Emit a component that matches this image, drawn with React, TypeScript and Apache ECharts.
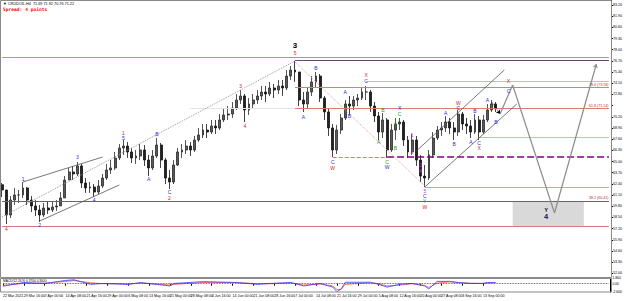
import React, { useEffect, useRef } from "react";
import * as echarts from "echarts";

const dateLabels = [
  "22 Mar 2021", "29 Mar 16:00", "7 Apr 00:00", "14 Apr 08:00", "21 Apr 16:00", "29 Apr 00:00",
  "6 May 08:00", "13 May 16:00", "21 May 00:00", "28 May 08:00", "4 Jun 16:00", "14 Jun 00:00",
  "21 Jun 08:00", "28 Jun 16:00", "7 Jul 00:00", "14 Jul 08:00", "21 Jul 16:00", "29 Jul 00:00",
  "5 Aug 08:00", "12 Aug 16:00", "20 Aug 00:00", "27 Aug 08:00", "3 Sep 16:00", "13 Sep 00:00",
];
const barsPerLabel = 5;
const categoryCount = 146;

const firstOpen = 62.3;
const closes = [
  61.69, 58.78, 60.52, 61.11, 61.11, 61.92, 60.52, 59.83, 59.36, 58.78,
  59.59, 59.36, 59.71, 59.83, 60.76, 62.85, 63.78, 63.55, 64.48, 62.5,
  61.92, 62.04, 61.45, 62.15, 63.08, 64.01, 64.25, 65.41, 66.57, 66.8,
  66.11, 65.41, 65.64, 66.34, 65.17, 64.25, 65.64, 66.92, 65.17, 63.08,
  62.62, 64.59, 66.11, 66.34, 66.8, 66.34, 67.5, 68.08, 68.66, 68.43,
  69.13, 68.9, 69.83, 70.41, 70.52, 71.22, 72.15, 72.62, 70.99, 71.69,
  72.15, 72.62, 73.08, 72.85, 73.55, 73.31, 73.78, 73.55, 74.94, 75.64,
  75.41, 72.15, 71.69, 73.08, 74.25, 74.94, 72.38, 70.76, 68.9, 66.34,
  68.66, 70.06, 71.69, 71.45, 72.15, 72.38, 73.08, 73.08, 71.45, 70.29,
  68.43, 69.83, 66.34, 68.66, 69.36, 69.59, 67.5, 66.11, 67.5, 65.17,
  63.31, 63.08, 65.76, 67.73, 68.66, 68.9, 69.59, 68.9, 68.43, 70.52,
  69.36, 69.13, 68.43, 69.83, 68.43, 69.83, 70.99, 71.69, 71.22,
];
const highs = [
  62.5, 61.69, 60.99, 61.92, 61.69, 62.62, 62.04, 60.99, 60.52, 59.94,
  60.17, 60.29, 60.29, 60.52, 61.45, 63.31, 64.25, 64.48, 64.94, 64.71,
  63.08, 62.62, 62.38, 62.85, 63.55, 64.71, 65.17, 66.11, 67.04, 67.5,
  67.27, 66.57, 66.34, 67.04, 66.92, 65.76, 66.34, 67.73, 67.15, 65.41,
  64.01, 65.17, 66.57, 67.04, 67.5, 67.27, 67.97, 68.9, 69.36, 69.36,
  69.83, 69.83, 70.52, 71.22, 71.45, 71.92, 72.85, 73.31, 72.85, 72.38,
  72.85, 73.31, 73.78, 73.78, 74.25, 74.01, 74.48, 74.48, 75.64, 76.11,
  76.69, 75.41, 73.08, 73.55, 74.94, 75.41, 75.18, 72.62, 71.22, 69.36,
  69.25, 70.52, 72.15, 72.62, 72.62, 72.85, 73.55, 73.78, 73.31, 71.92,
  70.76, 70.64, 70.06, 69.36, 70.06, 70.06, 69.83, 67.97, 68.2, 67.97,
  65.76, 64.59, 66.34, 68.43, 69.13, 69.59, 70.29, 70.06, 69.59, 70.99,
  70.76, 70.06, 69.83, 70.52, 70.29, 70.41, 71.69, 72.15, 71.92,
];
const lows = [
  60.87, 57.73, 58.43, 59.94, 60.17, 60.76, 59.94, 59.13, 58.66, 57.97,
  58.55, 58.9, 59.13, 59.25, 59.83, 60.76, 62.85, 62.85, 63.31, 61.92,
  61.34, 61.34, 60.87, 61.22, 61.92, 62.85, 63.55, 64.01, 65.17, 65.76,
  65.41, 64.83, 64.71, 65.17, 64.48, 63.31, 64.01, 65.41, 64.25, 62.38,
  61.8, 62.38, 64.48, 65.41, 65.87, 65.64, 66.11, 67.27, 67.73, 67.73,
  68.2, 68.2, 68.66, 69.59, 69.83, 70.06, 70.99, 71.69, 69.59, 70.41,
  71.22, 71.69, 72.15, 71.92, 72.62, 72.38, 72.85, 72.62, 73.31, 74.48,
  74.25, 71.45, 70.76, 71.22, 72.62, 73.55, 71.92, 69.83, 67.97, 65.52,
  65.87, 68.2, 69.83, 70.41, 70.99, 71.45, 72.15, 72.15, 70.76, 69.59,
  67.5, 67.73, 65.41, 66.11, 67.5, 68.66, 66.8, 65.41, 65.76, 64.48,
  62.62, 62.04, 62.85, 65.41, 67.5, 67.97, 68.43, 68.2, 67.5, 67.97,
  68.66, 68.2, 67.73, 68.2, 67.5, 68.2, 69.59, 70.76, 70.76,
];

const oscBars = [0, 5, 10, 15, 17, 21, 24, 30, 33, 40, 41, 48, 56, 61, 64, 69, 72, 76, 79, 80, 81, 82, 88, 90, 92, 95, 98, 101, 102, 104, 107, 109, 112, 115, 116, 118];
const oscMain = [-0.77, 0.37, 0.09, 1.03, 1.23, -0.2, 0.09, -0.2, 0.37, -0.69, 0.09, 0.66, 0.37, -0.2, 0.09, 0.37, -0.69, 0.09, -1.06, -2.49, -1.63, 0.46, 0.46, -0.2, -1.06, -0.2, 0.09, -0.69, -1.63, 0.74, 0.74, 0.37, 0.09, 0.09, 0.37, 0.37];
const oscSignal = [-0.5, 0.1, 0.2, 0.7, 1.0, 0.3, 0.0, -0.1, 0.2, -0.4, -0.2, 0.4, 0.4, 0.0, 0.0, 0.25, -0.4, -0.1, -0.7, -1.8, -1.8, -0.2, 0.3, 0.0, -0.7, -0.4, 0.0, -0.5, -1.2, 0.2, 0.6, 0.4, 0.15, 0.1, 0.25, 0.3];

// horizontal levels: [price, fromBar, toBar]
const topLevel = [77.15, 0, 145];
const peakLevel = [76.74, 70, 145];
const extLevel = [74.36, 87, 145];
const fib786 = [73.58, 70, 145];
const fib618 = [71.14, 70, 145];
const fib618Faint = [71.14, 45, 70];
const xLevel = [67.85, 114, 145];
const wLevelA = [65.52, 79, 92];
const wLevelB = [65.52, 92, 145];
const wLowLevel = [62.04, 101, 145];
const fib382 = [60.41, 0, 145];
const baseLevel = [57.5, 0, 145];

const dottedTrend = [[0, 58.56], [70, 76.69]];
const earlyUpper = [[5, 62.62], [24, 65.52]];
const earlyLower = [[9, 58.08], [28, 62.27]];
const declineTrend = [[70, 76.57], [101, 62.15]];
const riseLower = [[101, 62.04], [123, 71.69]];
const riseUpper = [[99, 66.22], [120, 75.64]];
const nearPath = [[117, 71.92], [119, 70.53]];
const projectionPath = [[119, 70.53], [122, 73.9], [132, 59.01], [142, 76.34]];
const targetZone = [[122, 60.41], [139, 57.5]];

// wave labels: [text, bar, price, degree]
const waveLabels: [string, number, number, string][] = [
  ["4", 1, 57.15, "primary"], ["1", 5, 62.97, "minor"], ["2", 9, 57.62, "minor"],
  ["3", 18, 65.52, "minor"], ["4", 22, 60.52, "minor"], ["1", 29, 68.31, "primary"],
  ["5", 29, 67.68, "minor"], ["A", 35, 62.97, "minor"], ["B", 37, 68.2, "minor"],
  ["C", 40, 61.45, "minor"], ["2", 40, 60.76, "primary"], ["3", 57, 73.78, "primary"],
  ["4", 58, 69.13, "primary"], ["3", 70, 78.54, "major"], ["5", 70, 77.62, "primary"],
  ["A", 72, 70.18, "minor"], ["B", 75, 75.87, "minor"], ["C", 79, 64.94, "minor"],
  ["W", 79, 64.25, "primary"], ["A", 82, 73.08, "minor"], ["B", 83, 70.29, "minor"],
  ["X", 87, 75.06, "primary"], ["C", 87, 74.36, "minor"], ["A", 90, 67.27, "sub"],
  ["B", 91, 70.99, "sub"], ["C", 92, 64.94, "sub"], ["W", 92, 64.36, "minor"],
  ["A", 94, 69.36, "sub"], ["B", 94, 66.57, "sub"], ["X", 95, 71.22, "minor"],
  ["C", 95, 70.52, "sub"], ["1", 98, 68.08, "micro"], ["2", 98, 66.11, "micro"],
  ["3", 100, 64.59, "micro"], ["4", 100, 63.9, "micro"], ["5", 101, 61.57, "micro"],
  ["C", 101, 60.99, "minor"], ["Y", 101, 60.41, "sub"], ["W", 101, 59.71, "primary"],
  ["A", 106, 70.64, "minor"], ["B", 108, 67.04, "minor"], ["W", 109, 71.8, "primary"],
  ["C", 109, 71.22, "minor"], ["A", 112, 67.27, "minor"], ["B", 113, 70.88, "minor"],
  ["C", 114, 67.15, "minor"], ["X", 114, 66.57, "primary"], ["A", 116, 72.15, "minor"],
  ["B", 118, 69.59, "minor"], ["X", 121, 74.36, "primary"], ["C", 121, 73.2, "minor"],
  ["Y", 130, 59.36, "major"], ["4", 130, 58.55, "target"],
];

const degreeColor: Record<string, string> = {
  primary: "#e01818", minor: "#2a2ae8", sub: "#189818", micro: "#e018e0", major: "#000000", target: "#14145e",
};

const FONT = "'Liberation Sans', Arial, sans-serif";

function hLine(level: number[], color: string, type: any, width: number, label?: string) {
  const style = { color, type, width, opacity: 1 };
  return [
    {
      coord: [level[1], level[0]],
      lineStyle: style,
      label: label
        ? { show: true, formatter: label, position: "insideEndTop", fontSize: 3.6, color: "#b03030", fontFamily: FONT, distance: 0.5 }
        : { show: false },
    },
    { coord: [level[2], level[0]], lineStyle: style },
  ];
}

function segs(points: number[][], color: string, type: string, width: number, arrowLast = false) {
  const out: any[] = [];
  const style = { color, type, width, opacity: 1 };
  for (let k = 0; k < points.length - 1; k++) {
    const last = k === points.length - 2;
    out.push([
      { coord: points[k], lineStyle: style, symbol: "none" },
      { coord: points[k + 1], lineStyle: style, symbol: arrowLast && last ? "arrow" : "none", symbolSize: 4 },
    ]);
  }
  return out;
}

export default function App() {
  const ref = useRef<HTMLDivElement>(null);
  useEffect(() => {
    if (!ref.current) return;
    const chart = echarts.init(ref.current, undefined, { renderer: "svg" });
    const categories = Array.from({ length: categoryCount }, (_, i) =>
      i % barsPerLabel === 0 && i / barsPerLabel < dateLabels.length ? dateLabels[i / barsPerLabel] : ""
    );
    const candles = closes.map((c, i) => {
      const o = i === 0 ? firstOpen : closes[i - 1];
      return [o, c, Math.min(lows[i], o, c), Math.max(highs[i], o, c)];
    });
    const last = closes[closes.length - 1];
    const lastOpen = closes[closes.length - 2];
    const lastHigh = Math.max(highs[highs.length - 1], lastOpen);
    const lastLow = lows[lows.length - 1];
    const labelTick = (i: number) => i % barsPerLabel === 0 && i / barsPerLabel < dateLabels.length;

    const option: any = {
      animation: false,
      backgroundColor: "#ffffff",
      grid: [
        { left: 0, top: 0, width: 611, height: 273.3 },
        { left: 0, top: 278, width: 611, height: 14 },
      ],
      xAxis: [
        {
          type: "category", gridIndex: 0, data: categories, boundaryGap: true,
          axisLine: { show: false }, axisTick: { show: false }, axisLabel: { show: false }, splitLine: { show: false },
        },
        {
          type: "category", gridIndex: 1, data: categories, boundaryGap: true,
          axisLine: { show: false },
          axisTick: { show: true, interval: (i: number) => labelTick(i), alignWithLabel: true, length: 2, lineStyle: { color: "#000" } },
          axisLabel: { interval: (i: number) => labelTick(i), fontSize: 3.6, color: "#000", align: "left", margin: 2, fontFamily: FONT },
          splitLine: { show: false },
        },
      ],
      yAxis: [
        {
          type: "value", gridIndex: 0, position: "right", min: 52, max: 83.78, interval: 1.3,
          axisLine: { show: true, lineStyle: { color: "#000" } },
          axisTick: { show: true, length: 2, lineStyle: { color: "#000" } },
          axisLabel: {
            fontSize: 3.6, margin: 2, color: "#000", fontFamily: FONT, showMaxLabel: false,
            formatter: (v: number) => (Math.abs(v - last) < 0.7 ? "" : v.toFixed(2)),
          },
          splitLine: { show: false },
        },
        {
          type: "value", gridIndex: 1, position: "right", min: -2.6, max: 1.8, interval: 0.2,
          axisLine: { show: true, lineStyle: { color: "#000" } },
          axisTick: { show: false },
          axisLabel: {
            fontSize: 3.4, margin: 2, color: "#000", fontFamily: FONT,
            formatter: (v: number) => (Math.abs(v - 1.8) < 1e-6 ? "1.800" : Math.abs(v) < 1e-6 ? "0.00" : Math.abs(v + 2.6) < 1e-6 ? "-2.600" : ""),
          },
          splitLine: { show: false },
        },
      ],
      series: [
        {
          type: "candlestick", xAxisIndex: 0, yAxisIndex: 0, data: candles, barWidth: 2.4,
          itemStyle: { color: "#5a5a5a", color0: "#222222", borderColor: "#2a2a2a", borderColor0: "#111111", borderWidth: 0.8 },
          markArea: {
            silent: true,
            itemStyle: { color: "#d9d9d9", opacity: 1 },
            data: [[{ coord: targetZone[0] }, { coord: targetZone[1] }]],
          },
          markLine: {
            silent: true, symbol: "none", label: { show: false },
            data: [
              hLine(topLevel, "#c27fd0", "solid", 1),
              hLine(peakLevel, "#555555", "solid", 1),
              hLine(extLevel, "#f5a8a8", "solid", 1),
              hLine(fib786, "#e07878", "solid", 1, `78.6 (${fib786[0].toFixed(2)})`),
              hLine(fib618, "#e07878", "solid", 1, `61.8 (${fib618[0].toFixed(2)})`),
              hLine(fib618Faint, "#e4e4e4", "solid", 1),
              hLine(xLevel, "#f5a8a8", "solid", 1),
              hLine(wLevelA, "#f07070", "dashed", 1),
              hLine(wLevelB, "#800080", [7, 3], 1.5),
              hLine(wLowLevel, "#e89898", "solid", 1),
              hLine(fib382, "#666666", "solid", 1, `38.2 (${fib382[0].toFixed(2)})`),
              hLine(baseLevel, "#e07878", "solid", 1),
              ...segs(dottedTrend, "#9a9a9a", "dotted", 1),
              ...segs(earlyUpper, "#555555", "solid", 0.8),
              ...segs(earlyLower, "#555555", "solid", 0.8),
              ...segs(declineTrend, "#e8a0a0", "dotted", 1),
              ...segs(riseLower, "#555555", "solid", 0.8),
              ...segs(riseUpper, "#555555", "solid", 0.8),
              ...segs(nearPath, "#000000", "dotted", 0.8, true),
              ...segs(projectionPath, "#8c8c8c", "solid", 1.2, true),
              [
                {
                  coord: [0, last], lineStyle: { opacity: 0 }, symbol: "none",
                  label: {
                    show: true, position: "end", formatter: last.toFixed(2), backgroundColor: "#000", color: "#fff",
                    fontSize: 3.8, padding: [0.8, 1], distance: 1, fontFamily: FONT,
                  },
                },
                { coord: [categoryCount - 1, last], symbol: "none", lineStyle: { opacity: 0 } },
              ],
            ],
          },
        },
        {
          type: "scatter", xAxisIndex: 0, yAxisIndex: 0, symbolSize: 1, z: 5,
          itemStyle: { color: "rgba(0,0,0,0)", opacity: 1 }, silent: true,
          data: waveLabels.map(([t, b, p, d]) => ({
            value: [b, p],
            label: {
              show: true, position: "inside", formatter: t, fontFamily: FONT, opacity: 1,
              color: degreeColor[d],
              fontSize: d === "major" && t !== "Y" ? 8 : d === "target" ? 7.5 : 5,
              fontWeight: d === "major" || d === "target" ? "bold" : "normal",
            },
          })),
        },
        {
          type: "line", xAxisIndex: 1, yAxisIndex: 1, symbol: "none", lineStyle: { color: "#ff4a4a", width: 0.8 },
          data: oscBars.map((b, i) => [b, oscSignal[i]]),
        },
        {
          type: "line", xAxisIndex: 1, yAxisIndex: 1, symbol: "none", lineStyle: { color: "#4a4aff", width: 0.9 },
          data: oscBars.map((b, i) => [b, oscMain[i]]),
          markLine: {
            silent: true, symbol: "none", label: { show: false },
            lineStyle: { color: "#333", type: "dotted", width: 0.8 },
            data: [[{ coord: [0, 0] }, { coord: [categoryCount - 1, 0] }]],
          },
        },
      ],
      graphic: [
        { type: "rect", shape: { x: 0.5, y: 0.5, width: 611, height: 277 }, style: { fill: "none", stroke: "#8a8a8a", lineWidth: 1 }, silent: true, z: 100 },
        { type: "rect", shape: { x: 0.5, y: 278.5, width: 611, height: 13.5 }, style: { fill: "none", stroke: "#8a8a8a", lineWidth: 1 }, silent: true, z: 100 },
        {
          type: "text", left: 3, top: 1.5, z: 100,
          style: { text: `▼ CRUDOIL,H4  ${lastOpen.toFixed(2)} ${lastHigh.toFixed(2)} ${lastLow.toFixed(2)} ${last.toFixed(2)}`, fontSize: 3.8, fill: "#000", fontFamily: FONT },
        },
        {
          type: "text", left: 3, top: 7, z: 100,
          style: { text: "Spread: 4 points", fontSize: 4.6, fontWeight: "bold", fill: "#ff0000", fontFamily: "'DejaVu Sans Mono', monospace" },
        },
        {
          type: "text", left: 3, top: 279.5, z: 100,
          style: { text: `MACD(12,26,9) ${oscMain[oscMain.length - 1].toFixed(4)} ${oscSignal[oscSignal.length - 1].toFixed(4)}`, fontSize: 3.2, fill: "#000", fontFamily: FONT },
        },
      ],
    };
    chart.setOption(option);
    return () => chart.dispose();
  }, []);
  return <div ref={ref} style={{ position: "fixed", left: 0, top: 0, width: 625, height: 301 }} />;
}
